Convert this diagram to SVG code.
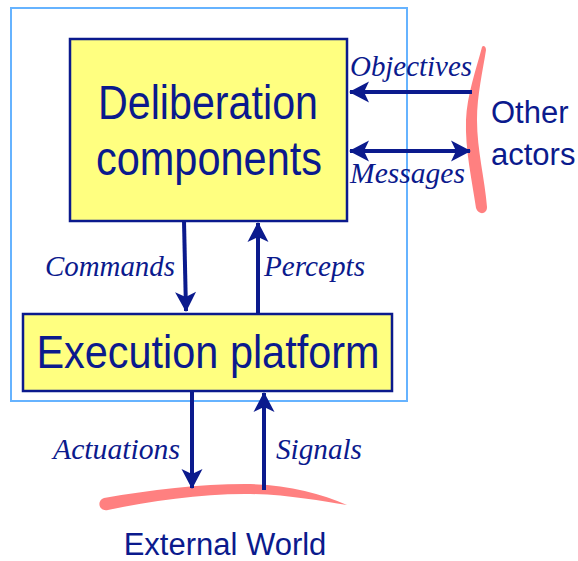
<svg xmlns="http://www.w3.org/2000/svg" width="578" height="561" viewBox="0 0 578 561">
<style>
.box{fill:#ffff80;stroke:#0b1a8d;stroke-width:2.5}
.sans{font-family:"Liberation Sans",Arial,sans-serif;fill:#0b1a8d}
.lab{font-family:"Liberation Serif","Times New Roman",serif;font-style:italic;font-size:30px;fill:#0b1a8d}
.conn{stroke:#0b1a8d;stroke-width:4;fill:none}
.pink{fill:#ff8080}
</style>
<defs>
<marker id="ah" markerUnits="userSpaceOnUse" markerWidth="24" markerHeight="24" viewBox="-20 -12 22 24" refX="0" refY="0" orient="auto-start-reverse">
<path d="M1,0 L-19,-10.5 L-14,0 L-19,10.5 Z" fill="#0b1a8d"/>
</marker>
</defs>
<rect x="11" y="8" width="396" height="393" fill="none" stroke="#66b3ff" stroke-width="2"/>
<g id="deliberation">
<rect class="box" x="70" y="39" width="277" height="182"/>
<text class="sans" x="208" y="119" font-size="48" text-anchor="middle" textLength="220" lengthAdjust="spacingAndGlyphs">Deliberation</text>
<text class="sans" x="209" y="175" font-size="48" text-anchor="middle" textLength="226" lengthAdjust="spacingAndGlyphs">components</text>
</g>
<g id="execution">
<rect class="box" x="23" y="314" width="369" height="77"/>
<text class="sans" x="208" y="368" font-size="46" text-anchor="middle" textLength="343" lengthAdjust="spacingAndGlyphs">Execution platform</text>
</g>
<g id="other-actors">
<path class="pink" d="M482,47 C476,70 467,95 466,120 C465,150 472,180 476,208 C478,215 487,215 487,207 C485,180 477,150 477,120 C477,95 483,70 486,50 C486,46 483,45 482,47 Z"/>
<text class="sans" x="491" y="123" font-size="31">Other</text>
<text class="sans" x="491" y="165" font-size="31">actors</text>
</g>
<g id="external-world">
<path class="pink" d="M104,498 C150,490 200,484 245,484 C285,484 320,493 347,505 C320,501 285,494 245,494 C200,494 150,501 108,510 C99,512 96,501 104,498 Z"/>
<text class="sans" x="225" y="555" font-size="31" text-anchor="middle">External World</text>
</g>
<g id="connectors">
<line class="conn" x1="472" y1="92" x2="350" y2="92" marker-end="url(#ah)"/>
<line class="conn" x1="350" y1="151" x2="470" y2="151" marker-start="url(#ah)" marker-end="url(#ah)"/>
<line class="conn" x1="184" y1="221" x2="186" y2="311" marker-end="url(#ah)"/>
<line class="conn" x1="258" y1="314" x2="258" y2="223" marker-end="url(#ah)"/>
<line class="conn" x1="192" y1="391" x2="192" y2="488" marker-end="url(#ah)"/>
<line class="conn" x1="264" y1="490" x2="264" y2="393" marker-end="url(#ah)"/>
</g>
<g id="labels">
<text class="lab" x="350" y="76" textLength="122" lengthAdjust="spacingAndGlyphs">Objectives</text>
<text class="lab" x="350" y="183" textLength="115" lengthAdjust="spacingAndGlyphs">Messages</text>
<text class="lab" x="45" y="276" textLength="130" lengthAdjust="spacingAndGlyphs">Commands</text>
<text class="lab" x="264" y="276" textLength="101" lengthAdjust="spacingAndGlyphs">Percepts</text>
<text class="lab" x="53" y="459" textLength="127" lengthAdjust="spacingAndGlyphs">Actuations</text>
<text class="lab" x="276" y="459" textLength="86" lengthAdjust="spacingAndGlyphs">Signals</text>
</g>
</svg>
